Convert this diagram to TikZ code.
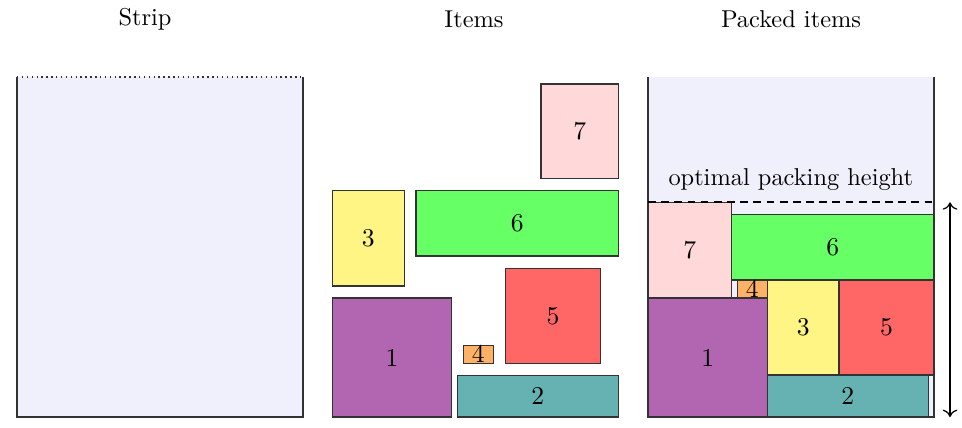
\documentclass[tikz,border=0pt]{standalone}
\usetikzlibrary{arrows.meta}
\definecolor{stripbg}{HTML}{F0F0FC}
\definecolor{cseven}{HTML}{FFD9D9}
\definecolor{cthree}{HTML}{FFF585}
\definecolor{csix}{HTML}{66FF66}
\definecolor{cfive}{HTML}{FF6666}
\definecolor{cone}{HTML}{B266B2}
\definecolor{cfour}{HTML}{FFB266}
\definecolor{ctwo}{HTML}{66B2B2}
\definecolor{edgec}{HTML}{333333}
\begin{document}
\begin{tikzpicture}[x=0.41pt,y=-0.41pt,
  itembox/.style={draw=edgec,line width=0.45pt},
  lbl/.style={inner sep=0pt,font=\fontsize{10.5}{12}\selectfont},
  title/.style={anchor=base,inner sep=0pt},
  stripline/.style={draw=edgec,line width=0.45pt}]
\useasboundingbox (0,0) rectangle (962,427);
% titles
\node[title] (tstrip) at (145,25) {Strip};
\node[title] (titems) at (474,27) {Items};
\node[title] (tpacked) at (791,27) {Packed items};
% empty strip
\fill[stripbg] (17,77) rectangle (303,417);
\draw[stripline] (17,77) -- (17,417) -- (303,417) -- (303,77);
\draw[edgec,line width=0.6pt,dash pattern=on 0.6pt off 1.4pt] (17,77) -- (303,77);
% items
\path[itembox,fill=cseven] (541,84) rectangle (618.3,178.7);
\node[lbl] (i7) at ({(541+618.3)/2},{(84+178.7)/2}) {7};
\path[itembox,fill=cthree] (332.3,190.7) rectangle (404.3,286);
\node[lbl] (i3) at ({(332.3+404.3)/2},{(190.7+286)/2}) {3};
\path[itembox,fill=csix] (416,190.7) rectangle (618.3,256);
\node[lbl] (i6) at ({(416+618.3)/2},{(190.7+256)/2}) {6};
\path[itembox,fill=cfive] (505.3,268.3) rectangle (600.7,363.3);
\node[lbl] (i5) at ({(505.3+600.7)/2},{(268.3+363.3)/2}) {5};
\path[itembox,fill=cone] (332.3,298) rectangle (451.7,417);
\node[lbl] (i1) at ({(332.3+451.7)/2},{(298+417)/2}) {1};
\path[itembox,fill=cfour] (463.3,345.3) rectangle (493.3,363.3);
\node[lbl] (i4) at ({(463.3+493.3)/2},{(345.3+363.3)/2}) {4};
\path[itembox,fill=ctwo] (457.3,375.3) rectangle (618.3,417);
\node[lbl] (i2) at ({(457.3+618.3)/2},{(375.3+417)/2}) {2};
% packed strip
\fill[stripbg] (648,77) rectangle (934,417);
\path[itembox,fill=cseven] (648,202.3) rectangle (731.7,298);
\node[lbl] (p7) at ({(648+731.7)/2},{(202.3+298)/2}) {7};
\path[itembox,fill=csix] (731.7,214.7) rectangle (934,280);
\node[lbl] (p6) at ({(731.7+934)/2},{(214.7+280)/2}) {6};
\path[itembox,fill=cfour] (737.3,280) rectangle (767.3,298);
\node[lbl] (p4) at ({(737.3+767.3)/2},{(280+298)/2}) {4};
\path[itembox,fill=cthree] (767.3,280) rectangle (839,375);
\node[lbl] (p3) at ({(767.3+839)/2},{(280+375)/2}) {3};
\path[itembox,fill=cfive] (839,280) rectangle (934,375);
\node[lbl] (p5) at ({(839+934)/2},{(280+375)/2}) {5};
\path[itembox,fill=cone] (648,298) rectangle (767.3,417);
\node[lbl] (p1) at ({(648+767.3)/2},{(298+417)/2}) {1};
\path[itembox,fill=ctwo] (767.3,375) rectangle (928.3,417);
\node[lbl] (p2) at ({(767.3+928.3)/2},{(375+417)/2}) {2};
\draw[stripline] (648,77) -- (648,417) -- (934,417) -- (934,77);
\draw[black,line width=0.9pt,dash pattern=on 3.2pt off 2.2pt] (648,202.3) -- (934,202.3);
\node[title] (opt) at (790.8,185) {optimal packing height};
% height arrow
\coordinate (atop) at (950,202.3);
\coordinate (abot) at (950,417);
\draw[black,line width=0.5pt,{To[length=3pt,width=6pt]}-{To[length=3pt,width=6pt]}] (atop) -- (abot);
\end{tikzpicture}
\end{document}
